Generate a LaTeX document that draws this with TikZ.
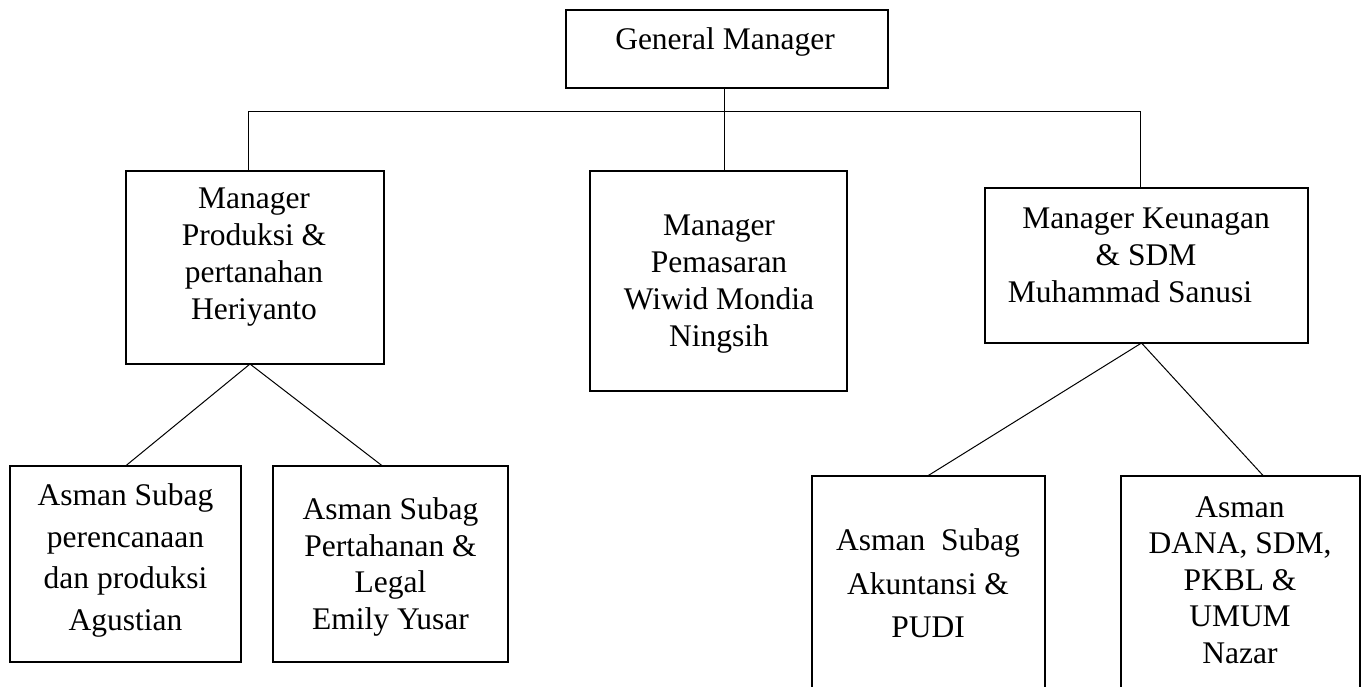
\documentclass[tikz,border=0pt]{standalone}
\usepackage{fontspec}
\setmainfont{Liberation Serif}
\begin{document}
\begin{tikzpicture}[x=1pt,y=-1pt,
  box/.style={draw=black,line width=2.4pt,rectangle,inner sep=0pt,outer sep=0pt,anchor=north west},
  conn/.style={draw=black,line width=1pt},
  txt/.style={align=center,inner sep=0pt,font=\fontsize{31.5}{37}\selectfont}]
\useasboundingbox (0,0) rectangle (1362,686);
\clip (0,0) rectangle (1362,686);
% boxes
\node[box,minimum width=322pt,minimum height=78pt] (gm) at (566,10) {};
\node[box,minimum width=258pt,minimum height=193pt] (m1) at (126,171) {};
\node[box,minimum width=257pt,minimum height=220pt] (m2) at (590,171) {};
\node[box,minimum width=323pt,minimum height=155pt] (m3) at (985,188) {};
\node[box,minimum width=231pt,minimum height=196pt] (a1) at (10,466) {};
\node[box,minimum width=235pt,minimum height=196pt] (a2) at (273,466) {};
\node[box,minimum width=233pt,minimum height=240pt] (a3) at (812,476) {};
\node[box,minimum width=239pt,minimum height=240pt] (a4) at (1121,476) {};
% texts
\node[txt] (gmt) at (725,42) {General Manager};
\node[txt] (m1t) at (254,257) {Manager\\Produksi \&\\pertanahan\\Heriyanto};
\node[txt] (m2t) at (719,284) {Manager\\Pemasaran\\Wiwid Mondia\\Ningsih};
\node[txt] (m3t) at (1146,255) {Manager Keunagan\\\& SDM\\Muhammad Sanusi\hspace*{32pt}};
\node[txt,font=\fontsize{31.5}{41.7}\selectfont] (a1t) at (125.5,560.5) {Asman Subag\\perencanaan\\dan produksi\\Agustian};
\node[txt,font=\fontsize{31.5}{36.7}\selectfont] (a2t) at (390.5,567) {Asman Subag\\Pertahanan \&\\Legal\\Emily Yusar};
\node[txt,font=\fontsize{31.5}{43.5}\selectfont] (a3t) at (928,583.5) {Asman~ Subag\\Akuntansi \&\\PUDI};
\node[txt,font=\fontsize{31.5}{36.5}\selectfont] (a4t) at (1240,580) {Asman\\DANA, SDM,\\PKBL \&\\UMUM\\Nazar};
% connectors
\coordinate (busy) at (0,111);
\draw[conn] ([xshift=-3pt]gm.south) -- ([xshift=-3pt]gm.south |- m2.north);
\draw[conn] ([xshift=-7pt]m1.north) -- ([xshift=-7pt]m1.north |- busy)
  -- ([xshift=-6pt]m3.north |- busy) -- ([xshift=-6pt]m3.north);
\draw[conn] ([xshift=-5pt]m1.south) -- (a1.north);
\draw[conn] ([xshift=-5pt]m1.south) -- ([xshift=-8pt]a2.north);
\draw[conn] ([xshift=-5pt]m3.south) -- ([xshift=-1pt]a3.north);
\draw[conn] ([xshift=-5pt]m3.south) -- ([xshift=23pt]a4.north);
\end{tikzpicture}
\end{document}
